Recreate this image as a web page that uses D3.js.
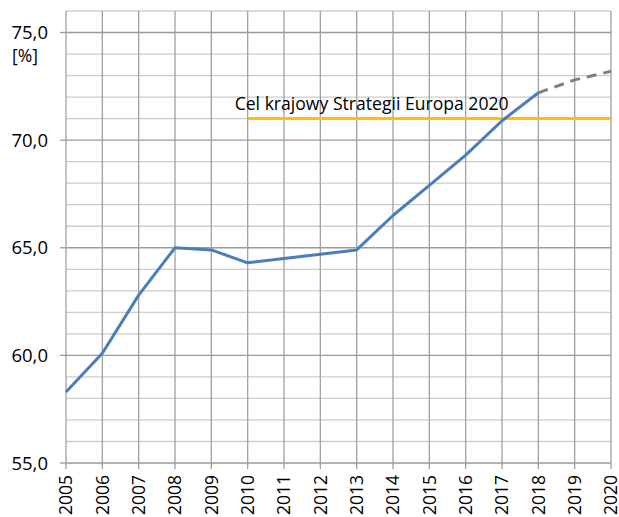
<!doctype html>
<html lang="pl">
<head>
<meta charset="UTF-8">
<title>Wskaźnik zatrudnienia</title>
<style>
  html, body { margin: 0; padding: 0; background: #fff; }
  svg { display: block; }
  text { font-family: "Open Sans", "Liberation Sans", sans-serif; fill: #000; }
</style>
</head>
<body>
<svg id="chart" width="619" height="517"></svg>
<script src="https://cdn.jsdelivr.net/npm/d3@7"></script>
<script>
  // dane
  const years = [2005, 2006, 2007, 2008, 2009, 2010, 2011, 2012, 2013, 2014, 2015, 2016, 2017, 2018, 2019, 2020]
  const actual = [58.3, 60.1, 62.8, 65.0, 64.9, 64.3, 64.5, 64.7, 64.9, 66.5, 67.9, 69.3, 70.9, 72.2]
  const forecastYears = [2018, 2019, 2020]
  const forecast = [72.2, 72.8, 73.2]
  const targetYears = [2010, 2020]
  const target = 71.0
  const targetLabel = 'Cel krajowy Strategii Europa 2020'
  const yTicks = [55, 60, 65, 70, 75]

  const svg = d3.select('#chart')
  const m = {left: 66, right: 8, top: 11, bottom: 54}
  const W = 619, H = 517

  const x = d3.scaleLinear().domain([2005, 2020]).range([m.left, W - m.right])
  const y = d3.scaleLinear().domain([55, 76]).range([H - m.bottom, m.top])

  // siatka pozioma co 1,0
  const g = svg.append('g')
  g.selectAll('line.h')
    .data(d3.range(55, 77))
    .join('line')
    .attr('x1', x(2005)).attr('x2', x(2020))
    .attr('y1', d => y(d)).attr('y2', d => y(d))
    .attr('stroke', d => d % 5 === 0 ? '#9a9a9a' : '#cccccc')
    .attr('stroke-width', 1.3)

  // siatka pionowa
  g.selectAll('line.v')
    .data(years)
    .join('line')
    .attr('x1', d => x(d)).attr('x2', d => x(d))
    .attr('y1', y(76)).attr('y2', y(55) + 6)
    .attr('stroke', '#a0a0a0')
    .attr('stroke-width', 1.3)

  // znaczniki osi Y
  g.selectAll('line.yt')
    .data(yTicks)
    .join('line')
    .attr('x1', x(2005) - 6).attr('x2', x(2005))
    .attr('y1', d => y(d)).attr('y2', d => y(d))
    .attr('stroke', '#9a9a9a')
    .attr('stroke-width', 1.3)

  svg.selectAll('text.yl')
    .data(yTicks)
    .join('text')
    .attr('x', 48)
    .attr('y', d => y(d) + 6.5)
    .attr('text-anchor', 'end')
    .attr('font-size', 18.5)
    .text(d => d.toFixed(1).replace('.', ','))

  svg.append('text')
    .attr('x', 12).attr('y', 62)
    .attr('font-size', 17.5)
    .text('[%]')

  svg.selectAll('text.xl')
    .data(years)
    .join('text')
    .attr('transform', d => `translate(${x(d)},${y(55) + 12}) rotate(-90)`)
    .attr('text-anchor', 'end')
    .attr('dy', '0.36em')
    .attr('font-family', '"Liberation Sans", Arial, sans-serif')
    .attr('font-size', 17.5)
    .text(d => d)

  // linia celu
  svg.append('line')
    .attr('x1', x(targetYears[0])).attr('x2', x(targetYears[1]))
    .attr('y1', y(target)).attr('y2', y(target))
    .attr('stroke', '#FFC000')
    .attr('stroke-width', 3)

  svg.append('text')
    .attr('x', x(2010) - 13).attr('y', y(target) - 9)
    .attr('font-size', 17.6)
    .text(targetLabel)

  const line = d3.line()
    .x(d => x(d[0]))
    .y(d => y(d[1]))

  svg.append('path')
    .attr('d', line(forecastYears.map((d, i) => [d, forecast[i]])))
    .attr('fill', 'none')
    .attr('stroke', '#7f7f7f')
    .attr('stroke-width', 3)
    .attr('stroke-dasharray', '10,7')

  svg.append('path')
    .attr('d', line(years.slice(0, actual.length).map((d, i) => [d, actual[i]])))
    .attr('fill', 'none')
    .attr('stroke', '#4A7EBB')
    .attr('stroke-width', 3)
    .attr('stroke-linejoin', 'round')
</script>
</body>
</html>
